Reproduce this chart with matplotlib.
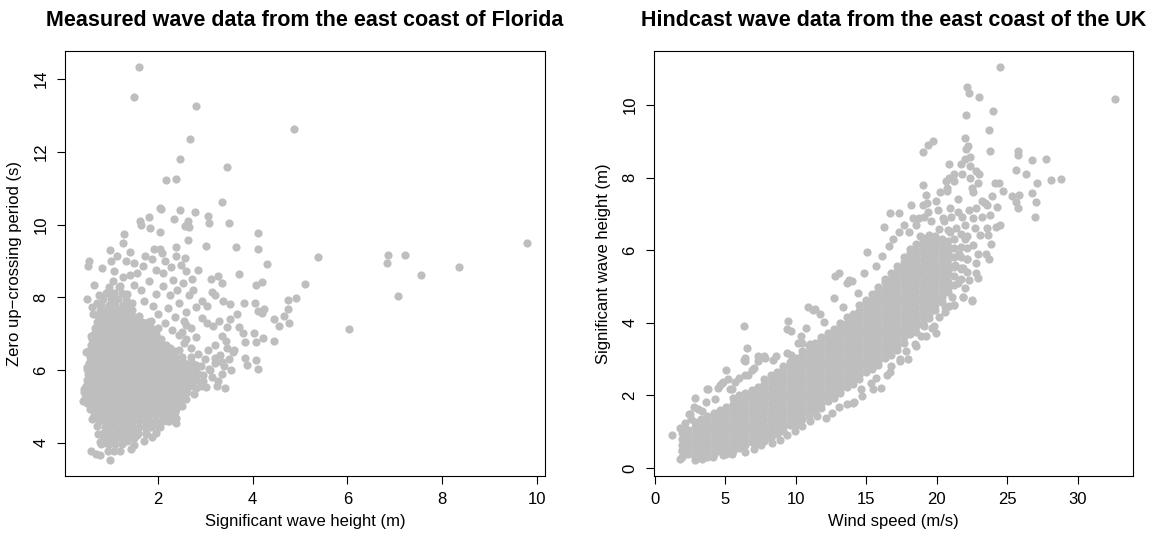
import numpy as np
import matplotlib.pyplot as plt

plt.rcParams['font.family'] = ['Liberation Sans', 'DejaVu Sans']

# ---- Florida: (Hs, Tz) scattered points
fl_sparse = [
    (1.59, 14.34), (1.49, 13.51), (2.80, 13.26), (4.88, 12.63), (2.68, 12.36), (2.46, 11.80),
    (3.45, 11.58), (2.16, 11.23), (2.38, 11.26), (3.36, 10.62), (2.05, 10.45), (2.07, 10.42),
    (2.46, 10.41), (2.79, 10.34), (3.05, 10.24), (3.50, 10.04), (3.07, 10.05), (2.33, 10.15),
    (1.80, 10.20), (1.62, 10.10), (1.64, 9.98), (4.12, 9.76), (2.64, 10.10), (2.57, 9.95),
    (2.66, 9.92), (1.28, 9.74), (2.05, 9.79), (1.84, 9.90), (2.64, 9.57), (3.02, 9.42),
    (3.65, 9.39), (4.11, 9.33), (2.38, 9.37), (1.27, 9.50), (1.40, 9.25), (0.99, 9.29),
    (9.80, 9.50), (5.38, 9.11), (6.86, 9.15), (6.84, 8.94), (7.22, 9.16), (8.36, 8.84),
    (7.55, 8.62), (7.07, 8.04), (6.03, 7.13), (5.10, 8.37), (4.91, 7.98), (4.75, 7.93),
    (4.30, 8.92), (3.71, 8.65), (4.19, 8.42), (4.08, 8.33), (4.75, 7.68), (4.67, 7.49),
    (4.46, 7.41), (4.76, 7.30), (4.56, 7.21), (4.45, 6.81), (4.21, 6.88), (4.11, 6.04),
    (4.06, 6.27), (3.88, 6.13), (3.83, 6.32), (3.84, 6.76), (4.06, 6.76), (4.03, 7.02),
    (4.11, 7.63), (4.19, 7.58), (4.23, 7.68), (4.04, 7.84), (3.82, 7.84), (3.51, 7.82),
    (3.67, 7.54), (3.53, 7.40), (3.72, 7.17), (3.79, 7.02), (3.45, 7.17), (3.36, 6.93),
    (3.43, 6.79), (3.59, 6.50), (3.36, 6.22), (3.20, 6.32), (3.08, 6.04), (3.24, 5.57),
    (3.42, 5.50), (3.26, 5.71), (2.81, 5.50), (3.01, 5.54),
    (3.15, 8.15), (3.26, 8.59), (3.12, 8.50), (3.36, 8.40), (2.85, 8.76), (2.72, 8.50),
    (2.93, 7.91), (2.73, 8.19), (2.81, 7.72), (3.04, 7.77), (3.20, 8.05), (3.37, 7.91),
    (3.04, 7.30), (2.93, 7.44), (3.16, 7.21), (3.28, 7.35), (2.58, 9.08), (2.37, 9.13),
    (2.15, 8.99), (2.28, 8.82), (2.48, 8.90), (2.59, 8.71), (2.52, 8.38), (2.31, 8.48),
    (2.11, 8.67), (1.95, 8.76), (1.92, 9.32), (2.05, 9.32), (2.09, 9.23), (1.88, 9.04),
    (1.72, 9.13), (1.68, 8.85), (1.49, 8.94), (1.55, 8.66), (1.32, 8.99), (1.14, 9.13),
    (1.01, 8.99), (1.06, 8.73), (0.82, 8.80), (0.55, 8.99), (0.53, 8.85), (0.49, 7.96),
    (0.60, 7.72), (0.63, 7.54), (0.65, 8.33), (0.58, 6.93), (0.47, 6.50), (0.43, 5.47),
    (0.41, 5.14), (0.50, 6.08),
    (0.99, 3.53), (0.59, 3.77), (0.68, 3.69), (0.77, 3.66), (0.94, 3.77), (1.06, 3.78),
    (1.20, 3.78), (1.42, 3.83), (0.78, 4.01), (1.70, 4.04), (1.88, 4.16), (1.56, 4.21),
    (2.38, 4.53), (2.30, 4.70), (2.38, 4.68),
    (1.20, 8.30), (1.35, 8.10), (1.50, 8.35), (1.65, 8.20), (1.80, 8.45), (1.95, 8.10),
    (2.10, 8.30), (2.25, 8.05), (1.45, 7.85), (1.70, 7.90), (1.90, 7.75), (2.00, 7.55),
    (2.20, 7.70), (2.35, 7.45), (2.45, 7.85), (2.60, 7.60), (2.15, 7.30), (2.30, 7.10),
    (2.45, 6.95), (2.60, 7.25), (1.85, 7.35), (2.00, 7.15), (1.25, 8.55), (1.05, 8.45),
    (0.95, 8.15), (0.75, 8.05), (0.70, 7.85), (1.40, 8.60), (2.40, 8.20), (2.65, 8.05),
    (2.55, 6.75), (2.70, 6.35), (2.25, 6.60), (2.45, 6.55), (2.55, 5.95), (2.95, 5.70),
    (2.80, 6.15), (2.90, 6.10), (3.00, 6.30), (3.10, 6.00), (3.20, 6.20), (3.30, 6.40),
    (3.40, 6.10), (3.50, 6.30), (3.05, 6.55), (3.20, 6.70), (2.95, 5.85), (3.15, 5.80),
    (3.35, 5.90), (3.55, 6.00), (2.85, 6.45), (2.70, 6.60), (2.60, 6.85), (2.80, 6.90),
    (3.45, 6.60), (3.60, 6.55), (2.50, 7.05), (2.70, 7.15), (2.55, 7.35),
    (0.60, 4.65), (0.70, 4.45), (0.74, 4.25), (0.90, 4.00), (1.35, 4.05), (1.50, 3.95),
    (1.75, 4.25), (2.00, 4.45), (2.20, 4.60), (2.35, 4.85), (2.50, 5.00), (2.60, 5.20),
    (2.75, 5.35), (2.90, 5.55),
]

# dense core of the Florida cloud, row by row: (Tz, [Hs, ...])
fl_core = [
    (3.96, [0.80, 0.96, 1.10, 1.24]),
    (4.12, [0.86, 0.98, 1.10, 1.22, 1.36, 1.50]),
    (4.28, [0.84, 0.96, 1.08, 1.20, 1.32, 1.44, 1.58, 1.74, 1.96]),
    (4.44, [0.88, 1.00, 1.12, 1.24, 1.36, 1.48, 1.60, 1.72, 1.86, 2.04]),
    (4.60, [0.76, 0.88, 1.00, 1.12, 1.24, 1.36, 1.48, 1.60, 1.72, 1.84, 1.96, 2.10, 2.24]),
    (4.76, [0.64, 0.76, 0.88, 1.00, 1.12, 1.24, 1.36, 1.48, 1.60, 1.72, 1.84, 1.96, 2.08, 2.20, 2.32]),
    (4.92, [0.56, 0.68, 0.80, 0.92, 1.04, 1.16, 1.28, 1.40, 1.52, 1.64, 1.76, 1.88, 2.00, 2.12, 2.24, 2.38]),
    (5.08, [0.50, 0.62, 0.74, 0.86, 0.98, 1.10, 1.22, 1.34, 1.46, 1.58, 1.70, 1.82, 1.94, 2.06, 2.18, 2.30, 2.44]),
    (5.24, [0.46, 0.58, 0.70, 0.82, 0.94, 1.06, 1.18, 1.30, 1.42, 1.54, 1.66, 1.78, 1.90, 2.02, 2.14, 2.26, 2.38, 2.52]),
    (5.40, [0.44, 0.56, 0.68, 0.80, 0.92, 1.04, 1.16, 1.28, 1.40, 1.52, 1.64, 1.76, 1.88, 2.00, 2.12, 2.24, 2.36, 2.48, 2.62]),
    (5.56, [0.47, 0.59, 0.71, 0.83, 0.95, 1.07, 1.19, 1.31, 1.43, 1.55, 1.67, 1.79, 1.91, 2.03, 2.15, 2.27, 2.39, 2.51, 2.63, 2.74]),
    (5.72, [0.50, 0.62, 0.74, 0.86, 0.98, 1.10, 1.22, 1.34, 1.46, 1.58, 1.70, 1.82, 1.94, 2.06, 2.18, 2.30, 2.42, 2.54, 2.66, 2.80]),
    (5.88, [0.53, 0.65, 0.77, 0.89, 1.01, 1.13, 1.25, 1.37, 1.49, 1.61, 1.73, 1.85, 1.97, 2.09, 2.21, 2.33, 2.45, 2.57, 2.69, 2.84]),
    (6.04, [0.50, 0.62, 0.74, 0.86, 0.98, 1.10, 1.22, 1.34, 1.46, 1.58, 1.70, 1.82, 1.94, 2.06, 2.18, 2.30, 2.42, 2.54, 2.66, 2.78]),
    (6.20, [0.54, 0.66, 0.78, 0.90, 1.02, 1.14, 1.26, 1.38, 1.50, 1.62, 1.74, 1.86, 1.98, 2.10, 2.22, 2.34, 2.46, 2.58, 2.72]),
    (6.36, [0.56, 0.68, 0.80, 0.92, 1.04, 1.16, 1.28, 1.40, 1.52, 1.64, 1.76, 1.88, 2.00, 2.12, 2.24, 2.36, 2.50]),
    (6.52, [0.52, 0.64, 0.76, 0.88, 1.00, 1.12, 1.24, 1.36, 1.48, 1.60, 1.72, 1.84, 1.96, 2.08, 2.20, 2.34]),
    (6.68, [0.58, 0.70, 0.82, 0.94, 1.06, 1.18, 1.30, 1.42, 1.54, 1.66, 1.78, 1.90, 2.02, 2.16]),
    (6.84, [0.60, 0.72, 0.84, 0.96, 1.08, 1.20, 1.32, 1.44, 1.56, 1.68, 1.80, 1.92, 2.06]),
    (7.00, [0.64, 0.76, 0.88, 1.00, 1.12, 1.24, 1.36, 1.48, 1.60, 1.72, 1.84, 1.96]),
    (7.16, [0.66, 0.78, 0.90, 1.02, 1.14, 1.26, 1.38, 1.50, 1.62, 1.74, 1.86]),
    (7.32, [0.70, 0.82, 0.94, 1.06, 1.18, 1.30, 1.42, 1.54, 1.66, 1.78]),
    (7.48, [0.74, 0.86, 0.98, 1.10, 1.22, 1.34, 1.46, 1.60]),
    (7.64, [0.78, 0.92, 1.06, 1.18, 1.32, 1.46]),
    (7.80, [0.80, 0.96, 1.10, 1.26, 1.40]),
    (7.96, [0.84, 1.00, 1.16, 1.32]),
    (8.12, [0.90, 1.08, 1.24]),
    (8.28, [0.96, 1.18]),
]

# ---- UK hindcast: (wind speed, Hs) scattered points
uk_sparse = [
    (32.68, 10.17), (24.53, 11.05), (22.18, 10.50), (22.26, 10.32), (22.97, 10.22), (24.03, 9.83),
    (22.05, 9.73), (23.71, 9.32), (23.82, 8.74), (22.00, 9.09), (22.21, 8.86), (22.05, 8.78),
    (19.76, 9.00), (19.39, 8.89), (19.00, 8.69), (25.74, 8.72), (25.74, 8.61), (26.79, 8.49),
    (27.76, 8.52), (25.63, 8.22), (26.32, 8.10), (28.13, 7.94), (28.84, 7.96), (27.11, 7.85),
    (26.79, 7.58), (27.08, 7.33), (27.00, 6.92), (25.32, 7.50), (25.87, 7.52), (25.63, 7.32),
    (25.74, 7.15), (24.68, 7.63), (24.13, 7.86), (24.39, 7.86), (22.82, 8.19), (20.89, 8.38),
    (21.76, 8.36), (22.34, 8.33), (22.03, 8.52), (22.34, 8.56), (19.03, 7.79), (19.26, 7.53),
    (20.63, 7.91), (20.71, 7.63), (21.24, 7.91), (21.24, 8.10), (22.92, 7.86), (22.50, 7.72),
    (23.20, 7.36), (23.55, 7.25), (23.82, 6.97), (24.18, 6.64), (23.66, 6.41), (23.87, 6.17),
    (23.47, 5.89), (23.68, 5.75), (22.50, 4.62), (21.89, 4.72), (21.24, 4.50), (20.84, 4.47),
    (22.03, 4.95), (22.95, 5.23), (22.76, 5.38), (19.92, 3.73), (19.26, 3.64), (19.79, 3.92),
    (19.13, 3.92), (17.95, 3.00), (16.03, 2.21), (14.66, 1.98), (14.61, 2.19), (14.05, 1.78),
    (13.61, 1.76), (12.11, 1.37), (16.71, 7.03), (17.34, 7.03), (16.24, 6.64), (15.05, 5.94),
    (13.08, 5.38), (12.76, 5.28), (13.79, 5.17), (14.84, 5.38), (12.71, 4.67), (10.84, 4.44),
    (11.24, 4.34), (9.45, 4.06), (6.34, 3.92), (6.55, 3.30), (6.37, 3.03), (6.42, 2.94),
    (7.29, 3.08), (7.76, 3.08), (5.05, 2.70), (3.68, 2.17), (4.61, 2.28), (4.79, 2.37),
    (5.18, 2.44), (2.87, 1.92), (2.74, 1.67), (2.47, 1.48), (1.18, 0.90), (1.76, 0.26),
    (2.82, 0.23), (1.89, 0.50), (2.03, 1.13), (9.39, 3.83), (9.66, 3.12), (10.45, 3.45),
    (10.34, 3.64),
    (3.08, 1.62), (3.74, 2.19), (5.32, 2.19), (5.71, 2.37), (6.32, 2.98), (6.42, 2.56),
    (7.03, 2.75), (7.82, 3.03), (8.34, 2.98), (8.61, 3.08), (9.34, 3.17), (9.66, 3.78),
    (10.18, 3.45), (10.71, 3.87), (10.97, 3.41), (11.37, 4.39), (11.71, 4.25), (12.03, 4.01),
    (13.61, 5.09), (14.00, 5.16), (13.34, 4.44), (14.39, 4.81), (15.71, 5.56), (16.11, 5.84),
    (16.63, 6.12), (16.89, 6.31), (17.29, 6.50), (17.68, 6.69), (18.21, 7.25), (18.34, 6.88),
    (18.74, 6.88), (19.00, 7.25), (19.39, 7.06), (19.92, 7.35), (20.45, 6.88), (20.18, 6.59),
    (20.97, 7.16), (21.50, 7.06), (20.97, 6.50), (22.03, 6.69), (22.55, 6.88), (22.82, 7.16),
    (23.08, 6.41), (22.55, 6.13), (22.16, 5.75), (22.82, 5.66), (21.76, 5.47), (21.50, 5.09),
    (22.29, 5.19), (21.11, 4.72), (20.58, 4.44), (20.18, 4.16), (19.66, 3.87), (18.87, 3.64),
    (18.47, 3.41), (17.82, 3.22), (17.42, 2.94), (16.76, 2.80), (16.50, 2.56), (15.71, 2.47),
    (15.45, 2.19), (14.13, 1.81), (13.08, 1.67), (12.55, 1.53), (11.50, 1.44), (10.97, 1.29),
    (10.45, 1.15), (9.92, 1.01), (9.39, 0.92), (8.87, 0.78), (8.29, 0.68), (7.55, 0.64),
    (7.03, 0.54), (6.37, 0.45), (5.45, 0.40), (4.79, 0.36), (4.13, 0.31), (3.34, 0.26),
    (2.29, 0.59), (1.76, 1.11), (2.16, 1.25), (2.55, 1.34), (2.42, 1.48), (3.34, 1.58),
    (3.61, 1.81), (4.26, 1.90), (4.45, 2.20), (4.74, 2.35), (5.45, 2.19), (5.97, 2.47),
    (6.63, 2.56), (6.89, 2.70), (7.29, 2.94),
    (18.00, 6.50), (18.50, 6.70), (19.10, 6.90), (19.60, 6.80), (20.10, 7.10), (20.50, 6.80),
    (21.00, 6.90), (21.40, 6.60), (19.30, 7.30), (18.80, 6.40), (20.80, 6.55), (21.80, 6.90),
    (22.30, 7.10), (22.00, 6.30), (21.60, 5.90), (22.70, 6.60), (23.20, 6.90), (22.90, 5.90),
    (21.30, 5.60), (21.90, 5.50), (20.20, 7.60), (20.70, 7.70), (21.50, 7.40), (22.60, 7.60),
    (23.40, 7.30), (23.90, 7.50), (24.30, 7.20), (24.50, 6.70), (23.60, 6.60), (22.40, 8.00),
    (21.80, 8.10), (20.90, 8.00), (23.00, 8.10),
    (16.70, 2.65), (15.30, 2.35), (18.50, 3.35), (17.40, 3.00), (20.60, 4.30), (21.20, 4.50),
    (21.90, 4.70), (22.50, 4.60),
]

# dense band of the UK cloud, column by column: (wind speed, [Hs, ...])
uk_core = [
    (1.90, [0.32, 0.48, 0.64, 0.80, 0.96]),
    (2.35, [0.40, 0.56, 0.72, 0.88, 1.04]),
    (2.80, [0.32, 0.48, 0.64, 0.80, 0.96, 1.12, 1.28]),
    (3.25, [0.40, 0.56, 0.72, 0.88, 1.04, 1.20, 1.36]),
    (3.70, [0.32, 0.48, 0.64, 0.80, 0.96, 1.12, 1.28, 1.44]),
    (4.15, [0.40, 0.56, 0.72, 0.88, 1.04, 1.20, 1.36, 1.52]),
    (4.60, [0.48, 0.64, 0.80, 0.96, 1.12, 1.28, 1.44, 1.60]),
    (5.05, [0.40, 0.56, 0.72, 0.88, 1.04, 1.20, 1.36, 1.52, 1.68]),
    (5.50, [0.48, 0.64, 0.80, 0.96, 1.12, 1.28, 1.44, 1.60, 1.76, 1.92]),
    (5.95, [0.56, 0.72, 0.88, 1.04, 1.20, 1.36, 1.52, 1.68, 1.84, 2.00]),
    (6.40, [0.64, 0.80, 0.96, 1.12, 1.28, 1.44, 1.60, 1.76, 1.92, 2.08]),
    (6.85, [0.72, 0.88, 1.04, 1.20, 1.36, 1.52, 1.68, 1.84, 2.00, 2.16]),
    (7.30, [0.68, 0.80, 0.96, 1.12, 1.28, 1.44, 1.60, 1.76, 1.92, 2.08, 2.24]),
    (7.75, [0.76, 0.88, 1.04, 1.20, 1.36, 1.52, 1.68, 1.84, 2.00, 2.16, 2.32, 2.45]),
    (8.20, [0.84, 0.96, 1.12, 1.28, 1.44, 1.60, 1.76, 1.92, 2.08, 2.24, 2.40, 2.56]),
    (8.65, [0.94, 1.04, 1.20, 1.36, 1.52, 1.68, 1.84, 2.00, 2.16, 2.32, 2.48, 2.64]),
    (9.10, [1.02, 1.12, 1.28, 1.44, 1.60, 1.76, 1.92, 2.08, 2.24, 2.40, 2.56, 2.72, 2.80]),
    (9.55, [1.20, 1.36, 1.52, 1.68, 1.84, 2.00, 2.16, 2.32, 2.48, 2.64, 2.80, 2.92]),
    (10.00, [1.18, 1.28, 1.44, 1.60, 1.76, 1.92, 2.08, 2.24, 2.40, 2.56, 2.72, 2.88, 3.04]),
    (10.45, [1.36, 1.52, 1.68, 1.84, 2.00, 2.16, 2.32, 2.48, 2.64, 2.80, 2.96, 3.12, 3.22]),
    (10.90, [1.44, 1.60, 1.76, 1.92, 2.08, 2.24, 2.40, 2.56, 2.72, 2.88, 3.04, 3.20, 3.36]),
    (11.35, [1.56, 1.68, 1.84, 2.00, 2.16, 2.32, 2.48, 2.64, 2.80, 2.96, 3.12, 3.28, 3.44]),
    (11.80, [1.66, 1.76, 1.92, 2.08, 2.24, 2.40, 2.56, 2.72, 2.88, 3.04, 3.20, 3.36, 3.52, 3.60]),
    (12.25, [1.84, 2.00, 2.16, 2.32, 2.48, 2.64, 2.80, 2.96, 3.12, 3.28, 3.44, 3.60, 3.72]),
    (12.70, [1.92, 2.08, 2.24, 2.40, 2.56, 2.72, 2.88, 3.04, 3.20, 3.36, 3.52, 3.68, 3.84]),
    (13.15, [2.06, 2.16, 2.32, 2.48, 2.64, 2.80, 2.96, 3.12, 3.28, 3.44, 3.60, 3.76, 3.92, 4.00]),
    (13.60, [2.24, 2.40, 2.56, 2.72, 2.88, 3.04, 3.20, 3.36, 3.52, 3.68, 3.84, 4.00, 4.16]),
    (14.05, [2.32, 2.48, 2.64, 2.80, 2.96, 3.12, 3.28, 3.44, 3.60, 3.76, 3.92, 4.08, 4.24]),
    (14.50, [2.46, 2.56, 2.72, 2.88, 3.04, 3.20, 3.36, 3.52, 3.68, 3.84, 4.00, 4.16, 4.32, 4.48]),
    (14.95, [2.64, 2.80, 2.96, 3.12, 3.28, 3.44, 3.60, 3.76, 3.92, 4.08, 4.24, 4.40, 4.56, 4.64]),
    (15.40, [2.72, 2.88, 3.04, 3.20, 3.36, 3.52, 3.68, 3.84, 4.00, 4.16, 4.32, 4.48, 4.64, 4.80]),
    (15.85, [2.84, 2.96, 3.12, 3.28, 3.44, 3.60, 3.76, 3.92, 4.08, 4.24, 4.40, 4.56, 4.72, 4.88, 4.98]),
    (16.30, [3.04, 3.20, 3.36, 3.52, 3.68, 3.84, 4.00, 4.16, 4.32, 4.48, 4.64, 4.80, 4.96, 5.12, 5.20]),
    (16.75, [3.12, 3.28, 3.44, 3.60, 3.76, 3.92, 4.08, 4.24, 4.40, 4.56, 4.72, 4.88, 5.04, 5.20, 5.36]),
    (17.20, [3.26, 3.36, 3.52, 3.68, 3.84, 4.00, 4.16, 4.32, 4.48, 4.64, 4.80, 4.96, 5.12, 5.28, 5.44, 5.56]),
    (17.65, [3.44, 3.60, 3.76, 3.92, 4.08, 4.24, 4.40, 4.56, 4.72, 4.88, 5.04, 5.20, 5.36, 5.52, 5.68, 5.80]),
    (18.10, [3.68, 3.84, 4.00, 4.16, 4.32, 4.48, 4.64, 4.80, 4.96, 5.12, 5.28, 5.44, 5.60, 5.76, 5.92, 6.04]),
    (18.55, [3.76, 3.92, 4.08, 4.24, 4.40, 4.56, 4.72, 4.88, 5.04, 5.20, 5.36, 5.52, 5.68, 5.84, 6.00, 6.16]),
    (19.00, [3.94, 4.00, 4.16, 4.32, 4.48, 4.64, 4.80, 4.96, 5.12, 5.28, 5.44, 5.60, 5.76, 5.92, 6.08, 6.24, 6.34]),
    (19.45, [4.12, 4.24, 4.40, 4.56, 4.72, 4.88, 5.04, 5.20, 5.36, 5.52, 5.68, 5.84, 6.00, 6.16, 6.32, 6.42]),
    (19.90, [4.36, 4.48, 4.64, 4.80, 4.96, 5.12, 5.28, 5.44, 5.60, 5.76, 5.92, 6.08, 6.24, 6.40]),
    (20.35, [4.56, 4.72, 4.88, 5.04, 5.20, 5.36, 5.52, 5.68, 5.84, 6.00, 6.16, 6.32]),
    (20.80, [4.86, 4.96, 5.12, 5.28, 5.44, 5.60, 5.76, 5.92, 6.08, 6.24]),
    (21.25, [5.05, 5.30, 5.55, 5.80, 6.05, 6.30]),
    (21.70, [5.20, 5.50, 5.80, 6.10, 6.45]),
    (22.15, [5.40, 5.75, 6.05, 6.40]),
]

fl_hs = [p[0] for p in fl_sparse] + [x for y, xs in fl_core for x in xs]
fl_tz = [p[1] for p in fl_sparse] + [y for y, xs in fl_core for x in xs]
uk_ws = [p[0] for p in uk_sparse] + [x for x, ys in uk_core for y in ys]
uk_hs = [p[1] for p in uk_sparse] + [y for x, ys in uk_core for y in ys]

fig = plt.figure(figsize=(11.63, 5.35), dpi=100)
ax1 = fig.add_axes([0.0559, 0.1112, 0.4127, 0.7935])
ax2 = fig.add_axes([0.5623, 0.1112, 0.4119, 0.7935])

panels = [
    (ax1, fl_hs, fl_tz, 'Measured wave data from the east coast of Florida',
     'Significant wave height (m)', 'Zero up\u2212crossing period (s)', [2, 4, 6, 8, 10], [4, 6, 8, 10, 12, 14]),
    (ax2, uk_ws, uk_hs, 'Hindcast wave data from the east coast of the UK',
     'Wind speed (m/s)', 'Significant wave height (m)', [0, 5, 10, 15, 20, 25, 30], [0, 2, 4, 6, 8, 10]),
]

for ax, xs, ys, title, xlab, ylab, xt, yt in panels:
    ax.plot(xs, ys, 'o', color='#BEBEBE', markersize=5.9, markeredgewidth=0, linestyle='none')
    ax.margins(0.04)
    ax.set_xticks(xt)
    ax.set_yticks(yt)
    ax.set_yticklabels([str(v) for v in yt], rotation=90, va='center')
    ax.tick_params(direction='out', length=5.5, width=0.8, labelsize=12, pad=6.5)
    for s in ax.spines.values():
        s.set_linewidth(0.8)
    ax.set_title(title, fontsize=15.5, fontweight='bold', pad=18)
    ax.set_xlabel(xlab, fontsize=12, labelpad=5)
    ax.set_ylabel(ylab, fontsize=12, labelpad=8)

fig.savefig('out.png', dpi=100)
